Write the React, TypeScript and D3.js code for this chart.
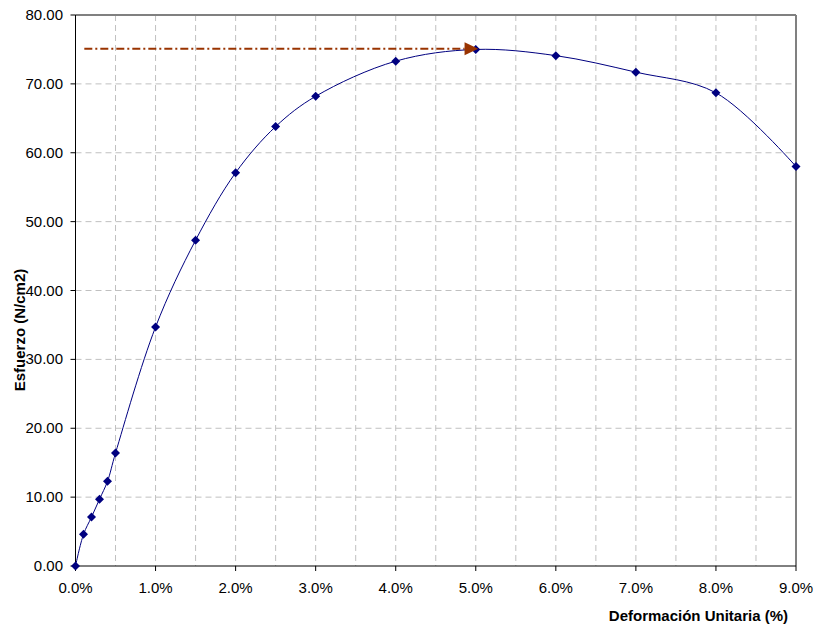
import React from "react";
import * as d3 from "d3";

const strainPct = [0, 0.1, 0.2, 0.3, 0.4, 0.5, 1.0, 1.5, 2.0, 2.5, 3.0, 4.0, 5.0, 6.0, 7.0, 8.0, 9.0];
const stress = [0, 4.6, 7.1, 9.7, 12.3, 16.4, 34.7, 47.3, 57.1, 63.8, 68.2, 73.3, 75.0, 74.1, 71.7, 68.7, 58.0];
const xTicks = [0, 1, 2, 3, 4, 5, 6, 7, 8, 9];
const xGrid = [0.5, 1, 1.5, 2, 2.5, 3, 3.5, 4, 4.5, 5, 5.5, 6, 6.5, 7, 7.5, 8, 8.5];
const yTicks = [0, 10, 20, 30, 40, 50, 60, 70, 80];
const peakLineX = [0.11, 4.86, 5.03];
const peakLineY = 75.1;

const W = 814, H = 626;
const L = 75.5, R = 796, T = 15, B = 566;

export default function App() {
  const x = d3.scaleLinear().domain([0, 9]).range([L, R]);
  const y = d3.scaleLinear().domain([0, 80]).range([B, T]);
  const pts: [number, number][] = strainPct.map((s, i) => [s, stress[i]]);
  const line = d3.line<[number, number]>().x(d => x(d[0])).y(d => y(d[1])).curve(d3.curveCatmullRom.alpha(0.5));
  const font = "'Liberation Sans', Arial, sans-serif";
  const ay = y(peakLineY);
  const ab = x(peakLineX[1]), at = x(peakLineX[2]);
  return (
    <svg width={W} height={H} style={{ position: "absolute", left: 0, top: 0, background: "#fff" }} fontFamily={font}>
      {/* grid */}
      {xGrid.map(g => (
        <line key={"xg" + g} x1={x(g)} x2={x(g)} y1={T} y2={B} stroke="#c0c0c0" strokeDasharray="6,4" />
      ))}
      {yTicks.filter(t => t > 0 && t < 80).map(t => (
        <line key={"yg" + t} x1={L} x2={R} y1={y(t)} y2={y(t)} stroke="#c0c0c0" strokeDasharray="6,4" />
      ))}
      {/* frame */}
      <line x1={L} x2={R} y1={T} y2={T} stroke="#808080" strokeWidth={2} />
      <line x1={R} x2={R} y1={T} y2={B} stroke="#808080" strokeWidth={2} />
      <line x1={L} x2={L} y1={T} y2={B + 0.5} stroke="#000" strokeWidth={1} />
      <line x1={L} x2={R} y1={B} y2={B} stroke="#000" strokeWidth={1} />
      {/* y ticks */}
      {yTicks.map(t => (
        <g key={"yt" + t}>
          <line x1={L - 5} x2={L} y1={y(t)} y2={y(t)} stroke="#000" />
          <text x={63} y={y(t) + 5} textAnchor="end" fontSize={15}>{t.toFixed(2)}</text>
        </g>
      ))}
      {/* x ticks */}
      {xTicks.map(t => (
        <g key={"xt" + t}>
          <line x1={x(t)} x2={x(t)} y1={B} y2={B + 5} stroke="#000" />
          <text x={x(t)} y={593} textAnchor="middle" fontSize={15}>{t.toFixed(1) + "%"}</text>
        </g>
      ))}
      {/* peak reference line */}
      <line x1={x(peakLineX[0])} x2={ab} y1={ay} y2={ay} stroke="#993300" strokeWidth={2} strokeDasharray="8,3,2,3" />
      {/* curve */}
      <path d={line(pts) || ""} fill="none" stroke="#000080" strokeWidth={1} />
      {pts.map((p, i) => {
        const cx = x(p[0]), cy = y(p[1]);
        return <path key={"m" + i} d={`M${cx},${cy - 4.5} L${cx + 4.5},${cy} L${cx},${cy + 4.5} L${cx - 4.5},${cy} Z`} fill="#000080" />;
      })}
      <path d={`M${ab},${ay - 6.5} L${at},${ay} L${ab},${ay + 6.5} Z`} fill="#993300" />
      {/* titles */}
      <text x={788} y={621} textAnchor="end" fontSize={15} fontWeight="bold">Deformación Unitaria (%)</text>
      <text transform={`translate(25,330) rotate(-90)`} textAnchor="middle" fontSize={15} fontWeight="bold">Esfuerzo (N/cm2)</text>
    </svg>
  );
}
